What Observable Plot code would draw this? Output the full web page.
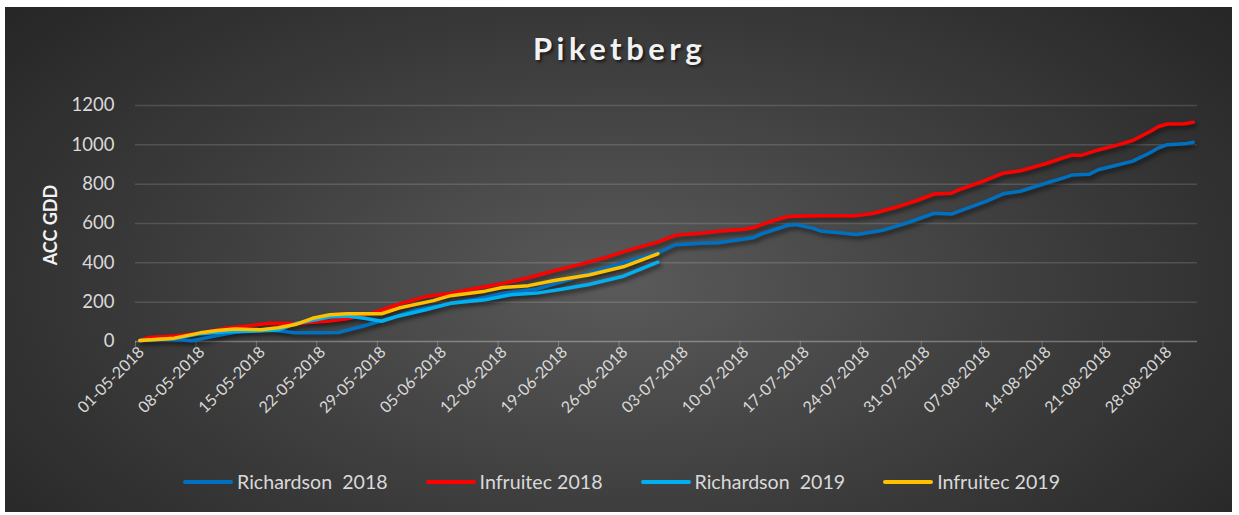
<!DOCTYPE html>
<html><head><meta charset="utf-8">
<script src="https://cdn.jsdelivr.net/npm/d3@7"></script>
<script src="https://cdn.jsdelivr.net/npm/@observablehq/plot@0.6"></script>
<style>
html,body{margin:0;padding:0;background:#fff;}
#wrap{position:relative;width:1239px;height:515px;overflow:hidden;font-family:Lato,"Open Sans",sans-serif;}
#bg{position:absolute;left:5px;top:7px;width:1227px;height:505px;background:radial-gradient(ellipse 65% 85% at 50% 55%, #5a5a5a 0%, #3c3c3c 55%, #262626 100%);}
#title{position:absolute;left:0;width:1239px;top:29px;text-align:center;font-weight:bold;font-size:31px;letter-spacing:4.5px;color:#f2f2f2;text-shadow:2px 2px 3px rgba(0,0,0,.6);}
#ylab{position:absolute;left:50px;top:225px;transform:translate(-50%,-50%) rotate(-90deg);font-weight:bold;font-size:18px;color:#f2f2f2;white-space:nowrap;}
#chart{position:absolute;left:0;top:0;}
#chart g[aria-label="line"]{filter:drop-shadow(2px 3px 2px rgba(0,0,0,0.55));}
#legend{position:absolute;top:470px;left:183px;display:flex;align-items:center;font-size:19.6px;color:#d9d9d9;}
#legend .item{display:flex;align-items:center;margin-right:38px;}
#legend .sw{display:inline-block;width:50px;height:4px;margin-right:4px;border-radius:2px;}
</style></head>
<body><div id="wrap"><div id="bg"></div><div id="title">Piketberg</div><div id="ylab">ACC GDD</div><div id="chart"></div><div id="legend"></div></div>
<script>
const seriesNames = ["Richardson  2018", "Infruitec 2018", "Richardson  2019", "Infruitec 2019"];
const seriesColors = ["#0070C0", "#FF0000", "#00B0F0", "#FFC000"];
const xTickLabels = ["01-05-2018","08-05-2018","15-05-2018","22-05-2018","29-05-2018","05-06-2018","12-06-2018","19-06-2018","26-06-2018","03-07-2018","10-07-2018","17-07-2018","24-07-2018","31-07-2018","07-08-2018","14-08-2018","21-08-2018","28-08-2018"];
const yTicks = [0,200,400,600,800,1000,1200];

const richardson2018Dates = ["05-01","05-04","05-06","05-07","05-10","05-12","05-15","05-17","05-19","05-22","05-24","05-27","05-30","06-02","06-06","06-09","06-12","06-16","06-20","06-23","06-27","06-30","07-02","07-05","07-07","07-09","07-11","07-12","07-15","07-16","07-18","07-19","07-21","07-23","07-25","07-26","07-29","08-01","08-03","08-04","08-07","08-09","08-11","08-14","08-16","08-17","08-19","08-20","08-22","08-24","08-26","08-27","08-28","08-30","08-31"];
const richardson2018Values = [5,12,8,4,30,47,59,55,44,44,46,80,118,160,194,215,244,267,318,362,413,450,492,500,502,515,527,547,590,595,575,560,553,544,558,565,605,652,648,664,712,751,764,806,832,847,851,873,895,917,960,985,1001,1005,1013];

const infruitec2018Dates = ["05-01","05-02","05-05","05-08","05-11","05-14","05-16","05-19","05-21","05-23","05-25","05-28","05-31","06-03","06-06","06-09","06-12","06-15","06-18","06-21","06-24","06-27","06-30","07-02","07-05","07-07","07-10","07-11","07-13","07-15","07-18","07-23","07-25","07-28","07-30","08-01","08-03","08-04","08-07","08-09","08-11","08-14","08-16","08-17","08-18","08-20","08-22","08-24","08-26","08-27","08-28","08-30","08-31"];
const infruitec2018Values = [5,20,28,42,68,82,93,92,98,104,115,145,190,227,245,271,295,324,360,392,428,470,505,540,550,560,571,578,610,635,640,640,652,688,717,750,754,774,820,856,868,905,935,948,946,974,996,1022,1068,1093,1106,1107,1115];

const richardson2019Dates = ["05-01","05-05","05-08","05-11","05-14","05-17","05-19","05-21","05-23","05-25","05-27","05-29","05-31","06-03","06-06","06-10","06-13","06-16","06-19","06-22","06-26","06-30"];
const richardson2019Values = [5,15,40,50,52,58,90,108,125,130,118,103,130,160,194,212,238,246,267,290,332,403];

const infruitec2019Dates = ["05-01","05-05","05-08","05-10","05-12","05-15","05-17","05-19","05-21","05-23","05-25","05-29","05-31","06-04","06-06","06-10","06-12","06-15","06-18","06-22","06-26","06-30"];
const infruitec2019Values = [5,17,44,56,63,60,70,86,118,136,141,141,170,208,233,256,275,284,310,338,380,446];

const parseMD = s => { const [m,d] = s.split("-").map(Number); return new Date(Date.UTC(2018, m-1, d, 12)); };
const parseTick = d3.utcParse("%d-%m-%Y");
const tickDates = xTickLabels.map(parseTick);

const allDates = [richardson2018Dates, infruitec2018Dates, richardson2019Dates, infruitec2019Dates];
const allValues = [richardson2018Values, infruitec2018Values, richardson2019Values, infruitec2019Values];
const rows = [];
allDates.forEach((ds, si) => ds.forEach((d, i) => rows.push({series: seriesNames[si], date: parseMD(d), value: allValues[si][i]})));

const chart = Plot.plot({
  width: 1239, height: 440,
  marginLeft: 135, marginRight: 42, marginTop: 105, marginBottom: 99,
  style: {background: "transparent", color: "#d9d9d9", fontFamily: "Lato, 'Open Sans', sans-serif", overflow: "visible"},
  x: {type: "utc", domain: [new Date(Date.UTC(2018,4,1)), new Date(Date.UTC(2018,8,1))]},
  y: {domain: [0, 1200]},
  color: {domain: seriesNames, range: seriesColors},
  marks: [
    Plot.gridY(yTicks, {stroke: "#ffffff", strokeOpacity: 0.14, strokeWidth: 1.5}),
    Plot.ruleY([0], {stroke: "#ffffff", strokeOpacity: 0.2, strokeWidth: 1.5}),
    Plot.axisY(yTicks, {tickSize: 0, tickPadding: 21, fontSize: 18.5, fill: "#d9d9d9", tickFormat: d => String(d), label: null}),
    Plot.axisX(tickDates, {tickFormat: () => "", tickSize: 6, stroke: "#ffffff", strokeOpacity: 0.25, label: null}),
    Plot.axisX(tickDates, {tickFormat: (d, i) => xTickLabels[i], tickRotate: -45, tickSize: 0, tickPadding: 8, dx: 6, dy: 0, fontSize: 16, fill: "#d9d9d9", label: null}),
    Plot.lineY(rows, {x: "date", y: "value", z: "series", stroke: "series", strokeWidth: 3.5, strokeLinecap: "round", strokeLinejoin: "round"})
  ]
});
document.getElementById("chart").appendChild(chart);

const legend = document.getElementById("legend");
seriesNames.forEach((n, i) => {
  const it = document.createElement("div"); it.className = "item";
  const sw = document.createElement("span"); sw.className = "sw"; sw.style.background = seriesColors[i];
  const tx = document.createElement("span"); tx.textContent = n; tx.style.whiteSpace = "pre";
  it.appendChild(sw); it.appendChild(tx); legend.appendChild(it);
});
</script></body></html>
